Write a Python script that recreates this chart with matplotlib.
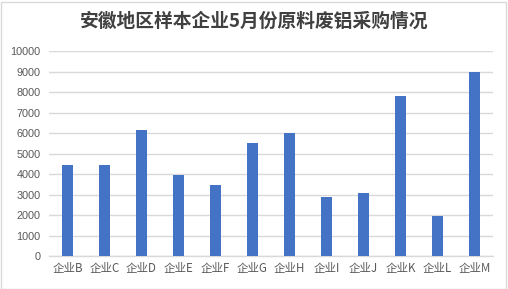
import matplotlib
matplotlib.use("Agg")
import matplotlib.pyplot as plt
from matplotlib.patches import Rectangle

# Data
categories = ["企业B", "企业C", "企业D", "企业E", "企业F", "企业G",
              "企业H", "企业I", "企业J", "企业K", "企业L", "企业M"]
values = [4450, 4450, 6150, 3950, 3450, 5500, 6000, 2900, 3100, 7800, 1950, 9000]
yticks = [0, 1000, 2000, 3000, 4000, 5000, 6000, 7000, 8000, 9000, 10000]
title = "安徽地区样本企业5月份原料废铝采购情况"

plt.rcParams['font.family'] = ['Noto Sans CJK SC', 'DejaVu Sans']

W, H = 508, 289
fig = plt.figure(figsize=(W / 100, H / 100), dpi=100)
fig.patch.set_facecolor("white")
fig.patches.append(Rectangle((0.5 / W, 0.5 / H), 1 - 2.5 / W, 1 - 2.5 / H,
                             transform=fig.transFigure, fill=False,
                             edgecolor="#d9d9d9", linewidth=1.0))

ax = fig.add_axes([49 / W, 1 - 256 / H, (493 - 49) / W, (256 - 51.3) / H])
x = list(range(len(categories)))
ax.bar(x, values, width=0.3, color="#4472C4", zorder=3)

ax.set_xlim(-0.5, len(categories) - 0.5)
ax.set_ylim(0, 10000)
ax.set_yticks(yticks)
ax.set_yticklabels([str(v) for v in yticks], fontfamily="Liberation Sans",
                   fontsize=7.8, color="#595959")
ax.set_xticks(x)
ax.set_xticklabels(categories, fontsize=8.3, color="#595959")
ax.tick_params(axis="both", length=0)
ax.tick_params(axis="y", pad=6)
ax.tick_params(axis="x", pad=4)

ax.grid(axis="y", color="#d9d9d9", linewidth=1.0, zorder=0)
for s in ["top", "right", "left"]:
    ax.spines[s].set_visible(False)
ax.spines["bottom"].set_color("#d9d9d9")
ax.spines["bottom"].set_linewidth(1.0)

fig.text(0.5, 1 - 21 / H, title, ha="center", va="center",
         fontsize=13.5, fontweight="bold", color="#404040")

fig.savefig("out.png", dpi=100)
